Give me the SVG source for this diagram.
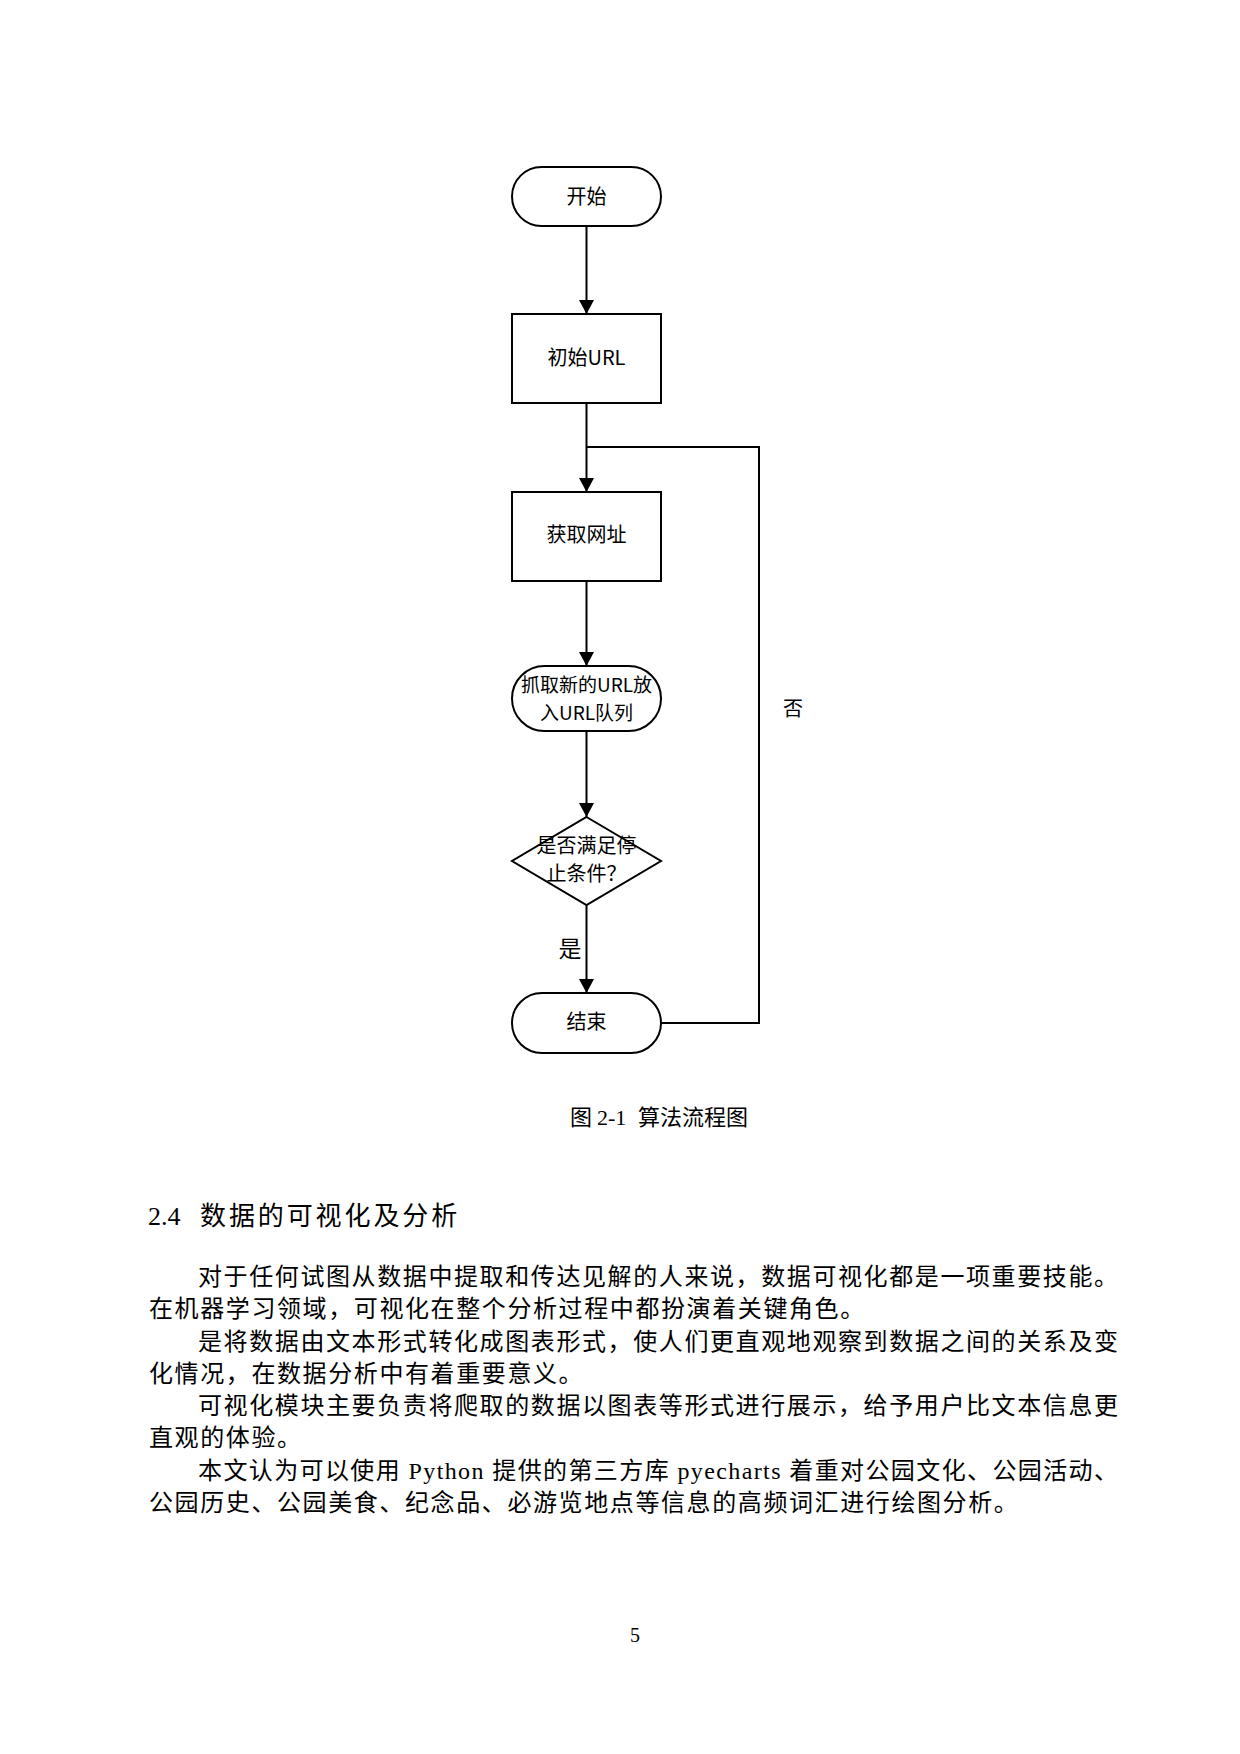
<svg xmlns="http://www.w3.org/2000/svg" width="1240" height="1754" viewBox="0 0 1240 1754">
<style>
.node{fill:#fff;stroke:#000;stroke-width:2}
.conn{fill:none;stroke:#000;stroke-width:2}
.ft{font-family:"Noto Sans CJK SC","Noto Sans",sans-serif;font-size:20px;text-anchor:middle;fill:#000}
.body{font-family:"Liberation Serif","Noto Sans CJK SC",serif;font-size:24px;fill:#000}
.head{font-family:"Liberation Serif","Noto Sans CJK SC",sans-serif;fill:#000}
</style>
<defs>
<marker id="arr" viewBox="0 0 14 15" refX="14" refY="7.5" markerWidth="14" markerHeight="15" orient="auto" markerUnits="userSpaceOnUse">
<path d="M0,0 L14,7.5 L0,15 z" fill="#000"/>
</marker>
</defs>
<rect width="1240" height="1754" fill="#fff"/>

<g id="connectors">
<path class="conn" d="M586.5,226 V314" marker-end="url(#arr)"/>
<path class="conn" d="M586.5,403 V492" marker-end="url(#arr)"/>
<path class="conn" d="M586.5,581 V666" marker-end="url(#arr)"/>
<path class="conn" d="M586.5,731 V817" marker-end="url(#arr)"/>
<path class="conn" d="M586.5,905 V993" marker-end="url(#arr)"/>
<path class="conn" d="M661,1023 H759 V447 H586.5"/>
<text class="ft" x="570" y="957" style="font-size:23px">是</text>
<text class="ft" x="793" y="716">否</text>
</g>

<g id="start">
<rect class="node" x="512" y="167" width="149" height="59" rx="29.5" ry="29.5"/>
<text class="ft" x="586.5" y="204">开始</text>
</g>
<g id="initurl">
<rect class="node" x="512" y="314" width="149" height="89"/>
<text class="ft" x="586.5" y="365">初始URL</text>
</g>
<g id="fetch">
<rect class="node" x="512" y="492" width="149" height="89"/>
<text class="ft" x="586.5" y="542">获取网址</text>
</g>
<g id="grab">
<rect class="node" x="512" y="666" width="149" height="65" rx="32.5" ry="32.5"/>
<text class="ft" x="586.5" y="692" style="font-size:19px">抓取新的URL放</text>
<text class="ft" x="586.5" y="720" style="font-size:19px">入URL队列</text>
</g>
<g id="decision">
<polygon class="node" points="586.5,817 661,861 586.5,905 512,861"/>
<text class="ft" x="586.5" y="853">是否满足停</text>
<text class="ft" x="586.5" y="881">止条件？</text>
</g>
<g id="end">
<rect class="node" x="512" y="993" width="149" height="60" rx="30" ry="30"/>
<text class="ft" x="586.5" y="1029">结束</text>
</g>

<g id="caption">
<text class="head" y="1125" style="font-size:22px"><tspan x="570" font-family="Noto Sans CJK SC">图</tspan><tspan x="597" font-family="Liberation Serif">2-1</tspan><tspan x="638" font-family="Noto Sans CJK SC">算法流程图</tspan></text>
</g>

<g id="heading">
<text class="head" y="1225" style="font-size:26px"><tspan x="148" font-family="Liberation Serif">2.4</tspan><tspan x="200" font-family="Noto Sans CJK SC" letter-spacing="2.9">数据的可视化及分析</tspan></text>
</g>

<g id="bodytext">
<text class="body" x="198" y="1285" textLength="920" lengthAdjust="spacing">对于任何试图从数据中提取和传达见解的人来说，数据可视化都是一项重要技能。</text>
<text class="body" x="149" y="1317" letter-spacing="1.6">在机器学习领域，可视化在整个分析过程中都扮演着关键角色。</text>
<text class="body" x="198" y="1350" textLength="920" lengthAdjust="spacing">是将数据由文本形式转化成图表形式，使人们更直观地观察到数据之间的关系及变</text>
<text class="body" x="149" y="1382" letter-spacing="1.6">化情况，在数据分析中有着重要意义。</text>
<text class="body" x="198" y="1414" textLength="920" lengthAdjust="spacing">可视化模块主要负责将爬取的数据以图表等形式进行展示，给予用户比文本信息更</text>
<text class="body" x="149" y="1446" letter-spacing="1.6">直观的体验。</text>
<text class="body" x="198" y="1479" textLength="920" lengthAdjust="spacing">本文认为可以使用  Python 提供的第三方库  pyecharts 着重对公园文化、公园活动、</text>
<text class="body" x="149" y="1511" letter-spacing="1.6">公园历史、公园美食、纪念品、必游览地点等信息的高频词汇进行绘图分析。</text>
</g>

<g id="pagenum">
<text class="body" x="635" y="1642" text-anchor="middle" style="font-size:20px">5</text>
</g>
</svg>
